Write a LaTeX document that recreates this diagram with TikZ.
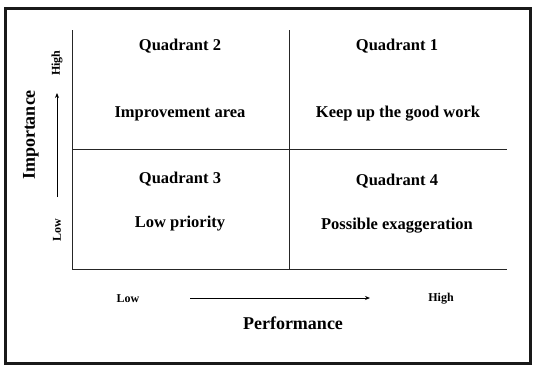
\documentclass[tikz,border=0pt]{standalone}
\usepackage{fontspec}
\setmainfont{Liberation Serif}
\usetikzlibrary{arrows.meta}
\begin{document}
\begin{tikzpicture}[x=1pt,y=-1pt,
  big/.style={font=\bfseries\fontsize{16.5}{19}\selectfont, inner sep=0pt},
  title/.style={font=\bfseries\fontsize{18}{21}\selectfont, inner sep=0pt},
  small/.style={font=\bfseries\fontsize{12}{14}\selectfont, inner sep=0pt},
  grid/.style={draw=black!85, line width=1pt},
  axarrow/.style={draw=black, line width=0.9pt, -{Stealth[length=5pt,width=4pt]}}]
\useasboundingbox (0,0) rectangle (536,367);
\draw[line width=3pt, draw=black!90] (5,8) rectangle (530,363);
% grid coordinates
\coordinate (tl) at (72,30);
\coordinate (bl) at (72,269);
\coordinate (br) at (507,269);
\coordinate (mt) at (289,30);
\coordinate (mb) at (289,269);
\coordinate (ml) at (72,149);
\coordinate (mr) at (507,149);
\draw[grid] (tl) -- (bl) -- (br);
\draw[grid] (mt) -- (mb);
\draw[grid] (ml) -- (mr);
% quadrant texts
\node[big] (q2) at (180,46) {Quadrant 2};
\node[big] (q1) at (397,46) {Quadrant 1};
\node[big] (ia) at (180,114) {Improvement area};
\node[big] (kg) at (398,114) {Keep up the good work};
\node[big] (q3) at (180,179) {Quadrant 3};
\node[big] (q4) at (397,181) {Quadrant 4};
\node[big] (lp) at (180,224) {Low priority};
\node[big] (pe) at (397,226) {Possible exaggeration};
% x axis
\node[small] (xlow) at (128,299) {Low};
\node[small] (xhigh) at (441,299) {High};
\coordinate (xa) at (190,298);
\coordinate (xb) at (370,298);
\draw[axarrow] (xa) -- (xb);
\node[title] (perf) at (293,323) {Performance};
% y axis
\node[title, rotate=90] (imp) at (31,135) {Importance};
\node[small, rotate=90] (yhigh) at (57,63) {High};
\node[small, rotate=90] (ylow) at (57,230) {Low};
\coordinate (ya) at (57,197);
\coordinate (yb) at (57,93);
\draw[axarrow] (ya) -- (yb);
\end{tikzpicture}
\end{document}
